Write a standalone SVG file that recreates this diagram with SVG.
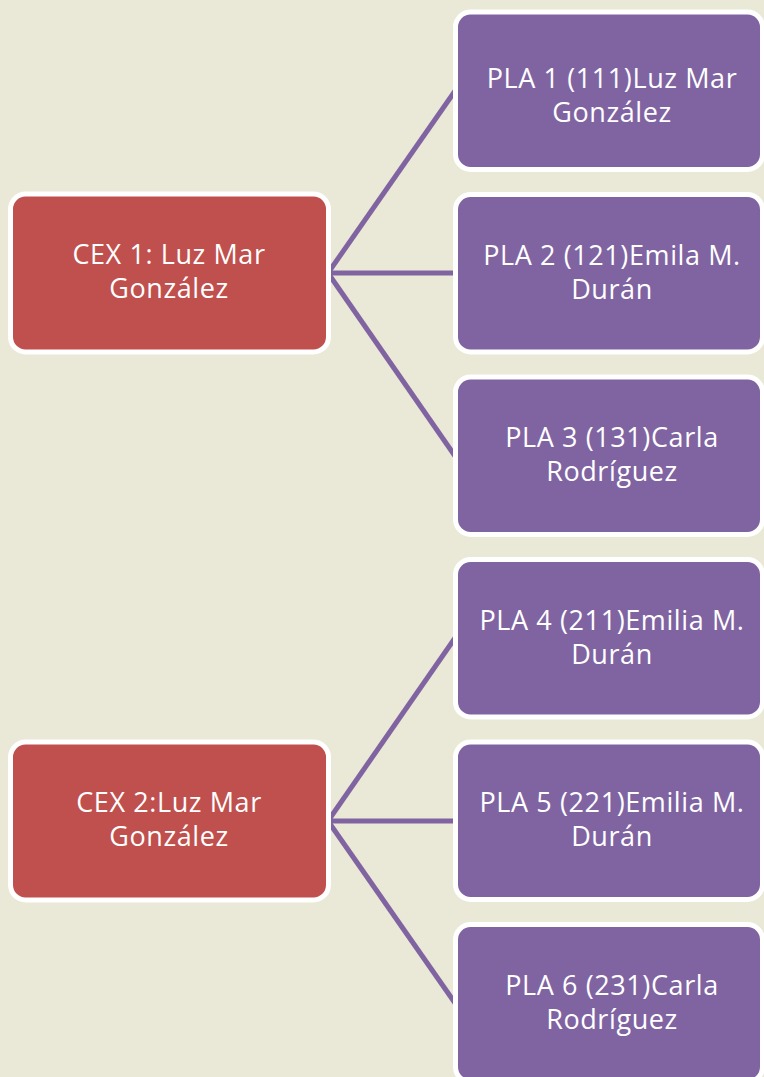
<svg xmlns="http://www.w3.org/2000/svg" width="764" height="1077" viewBox="0 0 764 1077">
<style>
.bg{fill:#EAE8D6}
.cex{fill:#C0504D;stroke:#FFFFFF;stroke-width:5}
.pla{fill:#8064A2;stroke:#FFFFFF;stroke-width:5}
.t{font-family:"Open Sans","Noto Sans","Liberation Sans",sans-serif;font-size:27px;letter-spacing:0.6px;fill:#FFFFFF;text-anchor:middle}
.c{stroke:#8064A2;stroke-width:5;fill:none}
</style>
<rect class="bg" x="0" y="0" width="764" height="1077"/>
<g id="connectors">
<line class="c" x1="328" y1="273" x2="455" y2="91"/>
<line class="c" x1="328" y1="273" x2="455" y2="273"/>
<line class="c" x1="328" y1="273" x2="455" y2="456"/>
<line class="c" x1="328" y1="821" x2="455" y2="638"/>
<line class="c" x1="328" y1="821" x2="455" y2="821"/>
<line class="c" x1="328" y1="821" x2="455" y2="1003"/>
</g>
<g id="cex1">
<rect class="cex" x="10.5" y="194" width="318" height="158" rx="15"/>
<text class="t" x="169" y="264">CEX 1: Luz Mar</text>
<text class="t" x="169" y="298">González</text>
</g>
<g id="cex2">
<rect class="cex" x="10.5" y="742" width="318" height="158" rx="15"/>
<text class="t" x="169" y="812">CEX 2:Luz Mar</text>
<text class="t" x="169" y="846">González</text>
</g>
<g id="pla1">
<rect class="pla" x="455.5" y="12" width="307" height="157.5" rx="15"/>
<text class="t" x="612" y="88">PLA 1 (111)Luz Mar</text>
<text class="t" x="612" y="122">González</text>
</g>
<g id="pla2">
<rect class="pla" x="455.5" y="194.5" width="307" height="157.5" rx="15"/>
<text class="t" x="612" y="265">PLA 2 (121)Emila M.</text>
<text class="t" x="612" y="299">Durán</text>
</g>
<g id="pla3">
<rect class="pla" x="455.5" y="377" width="307" height="157.5" rx="15"/>
<text class="t" x="612" y="447">PLA 3 (131)Carla</text>
<text class="t" x="612" y="481">Rodríguez</text>
</g>
<g id="pla4">
<rect class="pla" x="455.5" y="559.5" width="307" height="157.5" rx="15"/>
<text class="t" x="612" y="630">PLA 4 (211)Emilia M.</text>
<text class="t" x="612" y="664">Durán</text>
</g>
<g id="pla5">
<rect class="pla" x="455.5" y="742" width="307" height="157.5" rx="15"/>
<text class="t" x="612" y="812">PLA 5 (221)Emilia M.</text>
<text class="t" x="612" y="846">Durán</text>
</g>
<g id="pla6">
<rect class="pla" x="455.5" y="924.5" width="307" height="157.5" rx="15"/>
<text class="t" x="612" y="995">PLA 6 (231)Carla</text>
<text class="t" x="612" y="1029">Rodríguez</text>
</g>
</svg>
